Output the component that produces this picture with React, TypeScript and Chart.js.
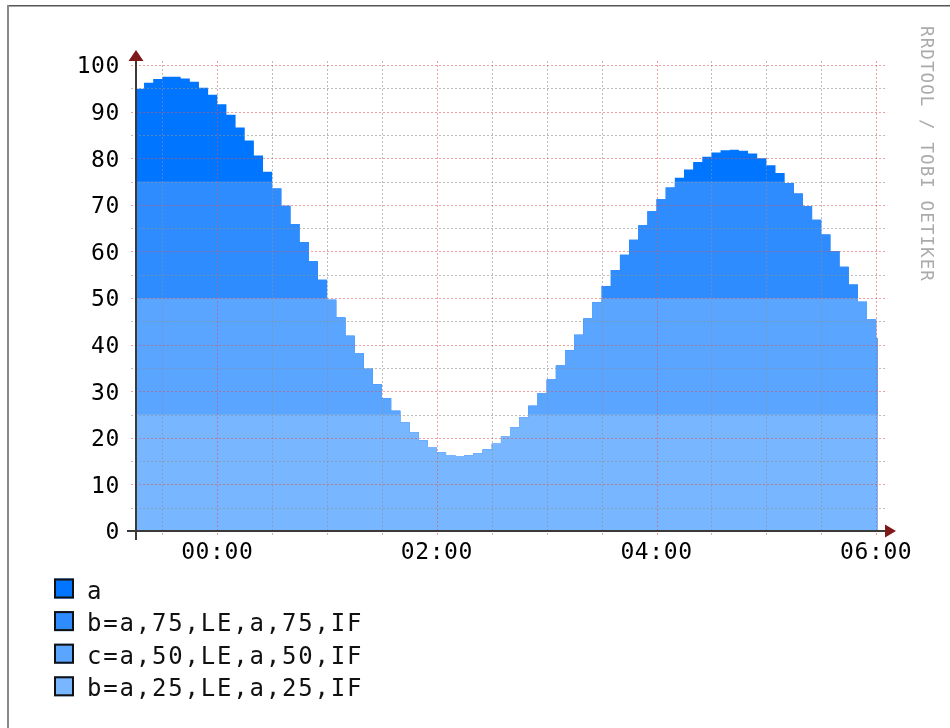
import React, { useEffect, useRef } from "react";
import { Chart, registerables } from "chart.js";

Chart.register(...registerables);

// ---- data (5-minute steps, value holds from its start minute to the next one) ----
const firstStepMinute = -45;
const stepMinutes = 5;
const aValues = [
  94.9, 96.2, 97.0, 97.5, 97.5, 97.1, 96.4, 95.1, 93.6,
  91.6, 89.3, 86.6, 83.8, 80.6, 77.1, 73.5, 69.8, 65.9, 62.0, 57.9, 53.9,
  49.6, 45.8, 41.9, 38.2, 34.8, 31.5, 28.5, 25.8, 23.3, 21.2, 19.4, 18.0,
  16.9, 16.3, 16.1, 16.2, 16.7, 17.5, 18.7, 20.4, 22.2, 24.4, 26.9, 29.6,
  32.5, 35.5, 38.8, 42.1, 45.6, 49.1, 52.6, 56.0, 59.3, 62.5, 65.6, 68.6,
  71.2, 73.7, 75.8, 77.6, 79.2, 80.3, 81.2, 81.7, 81.8, 81.6, 81.0, 80.0,
  78.5, 76.8, 74.7, 72.4, 69.7, 66.8, 63.6, 60.1, 56.7, 52.9, 49.2, 45.4,
  41.4,
];

const seriesLabels = ["a", "b=a,75,LE,a,75,IF", "c=a,50,LE,a,50,IF", "b=a,25,LE,a,25,IF"];
const seriesCaps = [Infinity, 75, 50, 25];
const seriesColors = ["#0075ff", "#2e8cff", "#5aa5ff", "#78b6ff"];

const xMinMinute = -44.4;
const xMaxMinute = 361;
const xLabelMinutes = [0, 120, 240, 360];
const xLabels = ["00:00", "02:00", "04:00", "06:00"];
const xMinorMinutes = [-30, 30, 60, 90, 150, 180, 210, 270, 300, 330];
const xMajorMinutes = [0, 120, 240, 360];

const yLabelValues = [0, 10, 20, 30, 40, 50, 60, 70, 80, 90, 100];
const yMinorValues = [5, 15, 25, 35, 45, 55, 65, 75, 85, 95];

const watermark = "RRDTOOL / TOBI OETIKER";

const MONO = '"DejaVu Sans Mono", monospace';
const GRID_COLOR = "rgba(144,144,144,0.6)";
const MGRID_COLOR = "rgba(224,80,80,0.55)";

const points = aValues.map((v, i) => ({ x: firstStepMinute + i * stepMinutes, y: v }));
points.push({ x: firstStepMinute + aValues.length * stepMinutes, y: aValues[aValues.length - 1] });

const rrdPlugin = {
  id: "rrdLook",
  beforeDraw(chart: any) {
    const ctx = chart.ctx;
    ctx.save();
    ctx.fillStyle = "#ffffff";
    ctx.fillRect(0, 0, chart.width, chart.height);
    ctx.restore();
    ctx.letterSpacing = "0.6px";
  },
  afterDatasetsDraw(chart: any) {
    const { ctx, chartArea: a } = chart;
    const xs = chart.scales.x;
    const ys = chart.scales.y;
    ctx.save();
    ctx.letterSpacing = "0px";
    ctx.lineWidth = 1;
    ctx.setLineDash([2, 2]);
    const hLine = (v: number, color: string) => {
      const py = Math.round(ys.getPixelForValue(v)) + 0.5;
      ctx.strokeStyle = color;
      ctx.beginPath();
      ctx.moveTo(a.left - 5, py);
      ctx.lineTo(a.right + 7, py);
      ctx.stroke();
    };
    const vLine = (v: number, color: string, ext: number) => {
      const px = Math.round(xs.getPixelForValue(v)) + 0.5;
      ctx.strokeStyle = color;
      ctx.beginPath();
      ctx.moveTo(px, a.top - 4);
      ctx.lineTo(px, a.bottom + ext);
      ctx.stroke();
    };
    yMinorValues.forEach((v) => hLine(v, GRID_COLOR));
    xMinorMinutes.forEach((v) => vLine(v, GRID_COLOR, 4));
    yLabelValues.forEach((v) => hLine(v, MGRID_COLOR));
    xMajorMinutes.forEach((v) => vLine(v, MGRID_COLOR, 6));
    ctx.setLineDash([]);

    // axes
    ctx.strokeStyle = "#3a3a3a";
    ctx.lineWidth = 2;
    ctx.beginPath();
    ctx.moveTo(a.left, a.bottom + 9);
    ctx.lineTo(a.left, a.top - 6);
    ctx.stroke();
    ctx.beginPath();
    ctx.moveTo(a.left - 9, a.bottom);
    ctx.lineTo(a.right + 8, a.bottom);
    ctx.stroke();

    // arrows
    ctx.fillStyle = "#7f1818";
    ctx.beginPath();
    ctx.moveTo(a.left, a.top - 15);
    ctx.lineTo(a.left - 7.5, a.top - 4);
    ctx.lineTo(a.left + 7.5, a.top - 4);
    ctx.closePath();
    ctx.fill();
    ctx.beginPath();
    ctx.moveTo(a.right + 18, a.bottom);
    ctx.lineTo(a.right + 7, a.bottom - 6.5);
    ctx.lineTo(a.right + 7, a.bottom + 6.5);
    ctx.closePath();
    ctx.fill();
    ctx.restore();
  },
  afterDraw(chart: any) {
    const ctx = chart.ctx;
    ctx.save();
    // legend
    ctx.font = `24px ${MONO}`;
    ctx.letterSpacing = "1.8px";
    ctx.textBaseline = "alphabetic";
    ctx.textAlign = "left";
    chart.data.datasets.forEach((ds: any, i: number) => {
      const by = 598.5 + i * 32.6;
      ctx.fillStyle = ds.backgroundColor;
      ctx.fillRect(54, by - 20, 20, 20);
      ctx.strokeStyle = "#111";
      ctx.lineWidth = 2;
      ctx.strokeRect(55, by - 19, 18, 18);
      ctx.fillStyle = "#111";
      ctx.fillText(ds.label, 87, by);
    });
    // watermark
    ctx.save();
    ctx.translate(921, 26);
    ctx.rotate(Math.PI / 2);
    ctx.font = `17.5px ${MONO}`;
    ctx.letterSpacing = "1.1px";
    ctx.fillStyle = "#aaaaaa";
    ctx.fillText(watermark, 0, 0);
    ctx.restore();
    // frame
    ctx.fillStyle = "#555";
    ctx.fillRect(7, 5, chart.width - 7, 1.5);
    ctx.fillStyle = "#888";
    ctx.fillRect(7, 5, 2, chart.height - 5);
    ctx.restore();
  },
};

export default function App() {
  const ref = useRef<HTMLCanvasElement>(null);
  useEffect(() => {
    const datasets = seriesLabels.map((label, i) => ({
      label,
      data: points.map((p) => ({ x: p.x, y: Math.min(p.y, seriesCaps[i]) })),
      backgroundColor: seriesColors[i],
      borderColor: "rgba(0,0,0,0)",
      borderWidth: 0,
      pointRadius: 0,
      fill: "origin",
      stepped: "before",
      order: 4 - i,
    }));
    const chart = new Chart(ref.current as HTMLCanvasElement, {
      type: "line",
      data: { datasets } as any,
      plugins: [rrdPlugin],
      options: {
        responsive: false,
        animation: false,
        events: [],
        layout: { padding: { left: 56, top: 65, right: 72, bottom: 147 } },
        plugins: { legend: { display: false }, tooltip: { enabled: false }, title: { display: false } },
        scales: {
          x: {
            type: "linear",
            min: xMinMinute,
            max: xMaxMinute,
            afterBuildTicks: (s: any) => {
              s.ticks = xLabelMinutes.map((v) => ({ value: v }));
            },
            afterFit: (s: any) => {
              s.height = 50;
            },
            grid: { display: false, drawTicks: false },
            border: { display: false },
            ticks: {
              autoSkip: false,
              maxRotation: 0,
              minRotation: 0,
              padding: 8,
              color: "#000",
              font: { family: MONO, size: 23 },
              callback: (v: any) => xLabels[xLabelMinutes.indexOf(Number(v))] ?? "",
            },
          },
          y: {
            type: "linear",
            min: 0,
            max: 100,
            afterBuildTicks: (s: any) => {
              s.ticks = yLabelValues.map((v) => ({ value: v }));
            },
            afterFit: (s: any) => {
              s.width = 80;
            },
            grid: { display: false, drawTicks: false },
            border: { display: false },
            ticks: {
              padding: 16,
              labelOffset: 2.5,
              color: "#000",
              font: { family: MONO, size: 23 },
              callback: (v: any) => String(v),
            },
          },
        },
      } as any,
    });
    return () => chart.destroy();
  }, []);
  return (
    <div style={{ position: "absolute", left: 0, top: 0, width: 950, height: 728, overflow: "hidden" }}>
      <canvas ref={ref} width={950} height={728} style={{ display: "block" }} />
    </div>
  );
}
